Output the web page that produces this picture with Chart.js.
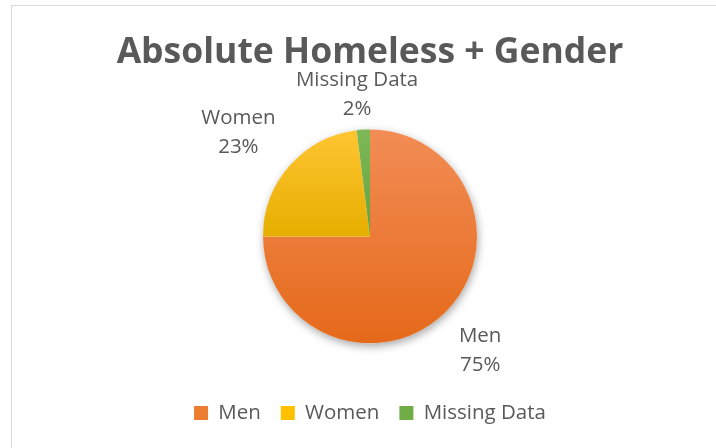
<!DOCTYPE html>
<html lang="en">
<head>
    <meta charset="UTF-8">
    <title>Absolute Homeless + Gender</title>
    <style>
        body { margin: 0; background: #fff; overflow: hidden; }
        #wrap { position: relative; width: 716px; height: 448px; }
        #frame { position: absolute; left: 11px; top: 5px; width: 720px; height: 460px; border: 1px solid #d9d9d9; }
        #genderChart { position: absolute; left: 0; top: 0; }
    </style>
    <script src="https://cdn.jsdelivr.net/npm/chart.js"></script>
</head>
<body>
    <div id="wrap">
        <div id="frame"></div>
        <canvas id="genderChart" width="716" height="448"></canvas>
    </div>

    <script>
        const categories = ['Men', 'Women', 'Missing Data'];
        const shares = [75, 23, 2];

        const baseColors = ['#ED7D31', '#FFC000', '#70AD47'];
        const lightColors = ['#F28D55', '#FFC532', '#7DB956'];
        const darkColors = ['#E5691A', '#E6AE00', '#64A03C'];
        const textGray = '#595959';
        const pieRadius = 107;
        const labelSize = 20.5;

        const total = shares.reduce((a, b) => a + b, 0);

        // vertical gradient spanning each slice's own height
        function sliceFill(context) {
            const i = context.dataIndex;
            const area = context.chart.chartArea;
            if (!area || i === undefined) return baseColors[i] || baseColors[0];
            const cy = (area.top + area.bottom) / 2;
            const before = shares.slice(0, i).reduce((a, b) => a + b, 0);
            const a0 = -Math.PI / 2 + before / total * 2 * Math.PI;
            const a1 = a0 + shares[i] / total * 2 * Math.PI;
            let top = cy, bottom = cy;
            for (let k = 0; k <= 60; k++) {
                const y = cy + pieRadius * Math.sin(a0 + (a1 - a0) * k / 60);
                top = Math.min(top, y);
                bottom = Math.max(bottom, y);
            }
            const g = context.chart.ctx.createLinearGradient(0, top, 0, bottom);
            g.addColorStop(0, lightColors[i]);
            g.addColorStop(1, darkColors[i]);
            return g;
        }

        // soft drop shadow under the whole pie
        const pieShadow = {
            id: 'pieShadow',
            beforeDatasetsDraw(chart) {
                const arc = chart.getDatasetMeta(0).data[0];
                if (!arc) return;
                const ctx = chart.ctx;
                ctx.save();
                ctx.shadowColor = 'rgba(0,0,0,0.35)';
                ctx.shadowBlur = 8;
                ctx.shadowOffsetX = 1;
                ctx.shadowOffsetY = 3;
                ctx.beginPath();
                ctx.arc(arc.x, arc.y, arc.outerRadius, 0, Math.PI * 2);
                ctx.fillStyle = '#fff';
                ctx.fill();
                ctx.restore();
            }
        };

        // category name + percent outside each slice
        const sliceLabels = {
            id: 'sliceLabels',
            afterDatasetsDraw(chart) {
                const ctx = chart.ctx;
                const clamp = v => Math.max(-1, Math.min(1, v * 1.4));
                const lineGap = 29;
                ctx.save();
                ctx.font = labelSize + 'px "Open Sans"';
                ctx.fillStyle = textGray;
                ctx.textAlign = 'center';
                ctx.textBaseline = 'alphabetic';
                chart.getDatasetMeta(0).data.forEach((arc, i) => {
                    const mid = (arc.startAngle + arc.endAngle) / 2;
                    const dx = Math.cos(mid), dy = Math.sin(mid);
                    const lines = [categories[i], Math.round(shares[i] / total * 100) + '%'];
                    const w = Math.max(...lines.map(t => ctx.measureText(t).width));
                    const h = 48;
                    // diagonal labels sit a little further from the rim
                    const r = arc.outerRadius + 12 + 7 * Math.abs(2 * dx * dy);
                    const bx = arc.x + dx * r + clamp(dx) * w / 2;
                    const by = arc.y + dy * r + clamp(dy) * h / 2;
                    const capShift = labelSize * 0.357;
                    ctx.fillText(lines[0], bx, by - lineGap / 2 + capShift);
                    ctx.fillText(lines[1], bx, by + lineGap / 2 + capShift);
                });
                ctx.restore();
            }
        };

        new Chart(document.getElementById('genderChart'), {
            type: 'pie',
            data: {
                labels: categories,
                datasets: [{
                    data: shares,
                    backgroundColor: sliceFill,
                    borderWidth: 0
                }]
            },
            options: {
                responsive: false,
                animation: false,
                radius: pieRadius,
                layout: { padding: { left: 24, right: 0, top: 0, bottom: 14.75 } },
                plugins: {
                    title: {
                        display: true,
                        text: 'Absolute Homeless + Gender',
                        color: textGray,
                        font: { family: 'Open Sans', size: 35.5, weight: 'bold' },
                        padding: { top: 32, bottom: 15.4 }
                    },
                    legend: {
                        position: 'bottom',
                        labels: {
                            color: textGray,
                            font: { family: 'Open Sans', size: labelSize },
                            boxWidth: 14,
                            boxHeight: 14,
                            padding: 20,
                            generateLabels: chart => categories.map((c, i) => ({
                                text: c,
                                fillStyle: baseColors[i],
                                strokeStyle: baseColors[i],
                                lineWidth: 0,
                                fontColor: textGray,
                                index: i
                            }))
                        }
                    },
                    tooltip: { enabled: false }
                }
            },
            plugins: [pieShadow, sliceLabels]
        });
    </script>
</body>
</html>
